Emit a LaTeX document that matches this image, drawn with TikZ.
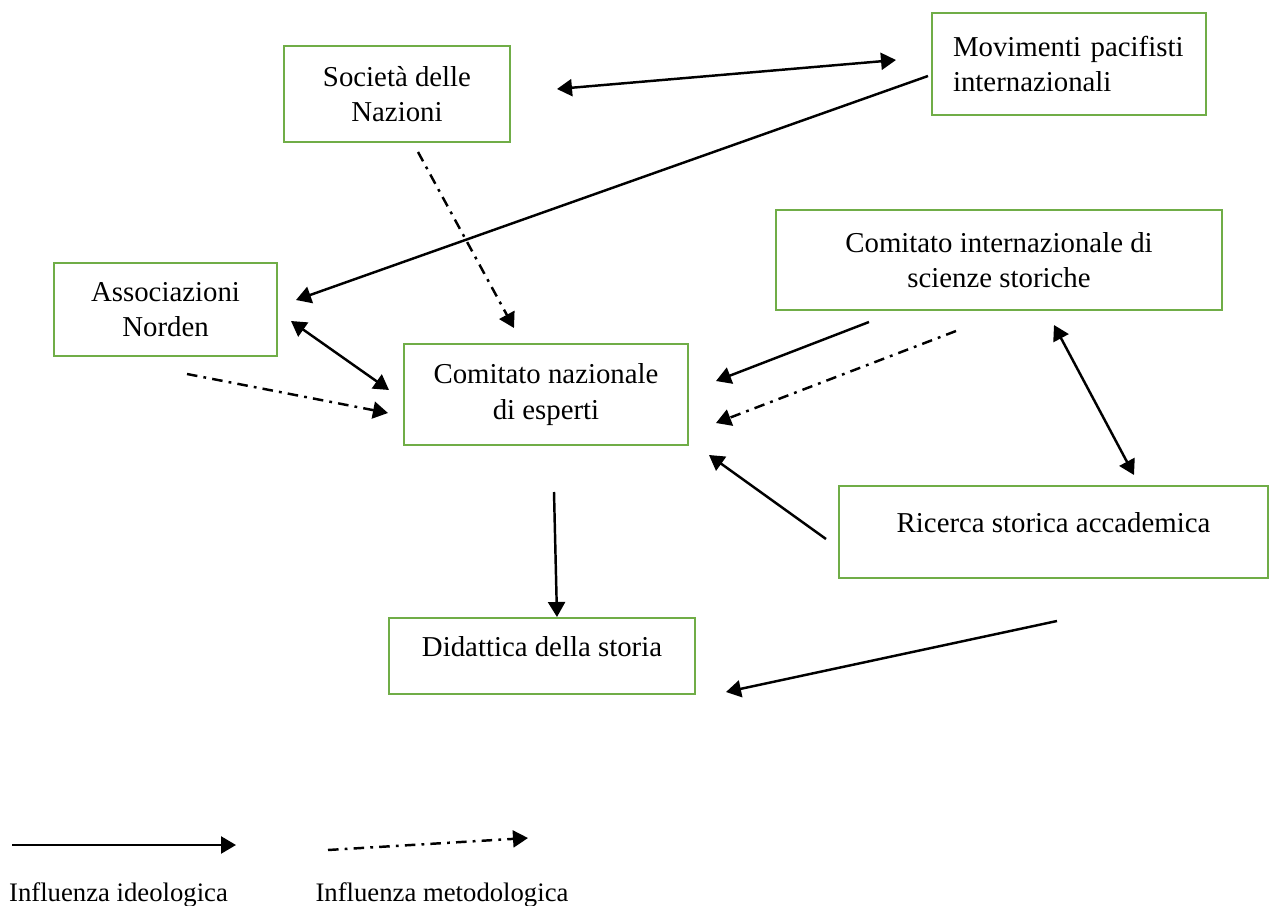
\documentclass[tikz,border=0pt]{standalone}
\usepackage{fontspec}
\setmainfont{Liberation Serif}
\usetikzlibrary{arrows.meta}
\definecolor{boxgreen}{HTML}{70AD47}
\tikzset{
	kasten/.style={draw=boxgreen, line width=1.3pt, inner sep=0pt, align=center,
		font=\fontsize{16.4}{20}\selectfont},
	einzeilig/.style={text height=0.3cm, text depth=0.3cm},
	ideol/.style={line width=1.4pt, -{Triangle[length=0.3cm,width=0.34cm]}},
	metod/.style={ideol, dash pattern=on 6pt off 3.5pt on 1.6pt off 3.5pt},
	beide/.style={line width=1.4pt, {Triangle[length=0.3cm,width=0.34cm]}-{Triangle[length=0.3cm,width=0.34cm]}},
	legende/.style={font=\fontsize{15.2}{18}\selectfont}
}
\begin{document}
\begin{tikzpicture}[x=0.02cm, y=-0.02cm]
\useasboundingbox (0,0) rectangle (1269,906);

		%Kaesten
		\node[kasten, minimum width=4.52cm, minimum height=1.92cm] (sdn) at (397,94) {Società delle\\Nazioni};
		\node[kasten, align=left, text width=4.64cm, inner xsep=0.42cm, minimum height=2.04cm] (mpi) at (1069,64) {Movimenti pacifisti\\internazionali};
		\node[kasten, minimum width=4.46cm, minimum height=1.86cm] (norden) at (165.5,309.5) {Associazioni\\Norden};
		\node[kasten, minimum width=5.68cm, minimum height=2.02cm] (cne) at (546,394.5) {Comitato nazionale\\di esperti};
		\node[kasten, minimum width=8.92cm, minimum height=2.0cm] (cis) at (999,260) {Comitato internazionale di\\scienze storiche};
		\node[kasten, einzeilig, minimum width=8.58cm, minimum height=1.84cm] (rsa) at (1053.5,532) {Ricerca storica accademica};
		\node[kasten, einzeilig, minimum width=6.12cm, minimum height=1.52cm] (dds) at (542,656) {Didattica della storia};

		%Endpunkte der Pfeile
		\coordinate (sdnR) at (557,89);
		\coordinate (mpiL) at (896,60);
		\coordinate (mpiA) at (928,76);
		\coordinate (nordenR) at (296,300);
		\coordinate (sdnU) at (418,152);
		\coordinate (cneO) at (514,328);
		\coordinate (nordenU) at (291,321);
		\coordinate (cneL) at (389,390);
		\coordinate (nordenM) at (187,374);
		\coordinate (cneLM) at (388,413);
		\coordinate (cisA) at (869,322);
		\coordinate (cneR) at (716,381);
		\coordinate (cisM) at (956,331);
		\coordinate (cneRM) at (716,423);
		\coordinate (cisU) at (1054,325);
		\coordinate (rsaO) at (1134,475);
		\coordinate (rsaL) at (826,539);
		\coordinate (cneRU) at (709,455);
		\coordinate (cneU) at (554,492);
		\coordinate (ddsO) at (557,617);
		\coordinate (rsaU) at (1057,621);
		\coordinate (ddsR) at (726,692);

		%Pfeile
		\draw[beide] (sdnR) -- (mpiL);
		\draw[ideol] (mpiA) -- (nordenR);
		\draw[metod] (sdnU) -- (cneO);
		\draw[beide] (nordenU) -- (cneL);
		\draw[metod] (nordenM) -- (cneLM);
		\draw[ideol] (cisA) -- (cneR);
		\draw[metod] (cisM) -- (cneRM);
		\draw[beide] (cisU) -- (rsaO);
		\draw[ideol] (rsaL) -- (cneRU);
		\draw[ideol] (cneU) -- (ddsO);
		\draw[ideol] (rsaU) -- (ddsR);

		%Legende
		\coordinate (li1) at (12,845);
		\coordinate (li2) at (236,845);
		\coordinate (lm1) at (328,850);
		\coordinate (lm2) at (528,838);
		\draw[ideol] (li1) -- (li2);
		\draw[metod] (lm1) -- (lm2);
		\node[legende] (ltxt1) at (118.5,895) {Influenza ideologica};
		\node[legende] (ltxt2) at (442,895) {Influenza metodologica};

\end{tikzpicture}
\end{document}
